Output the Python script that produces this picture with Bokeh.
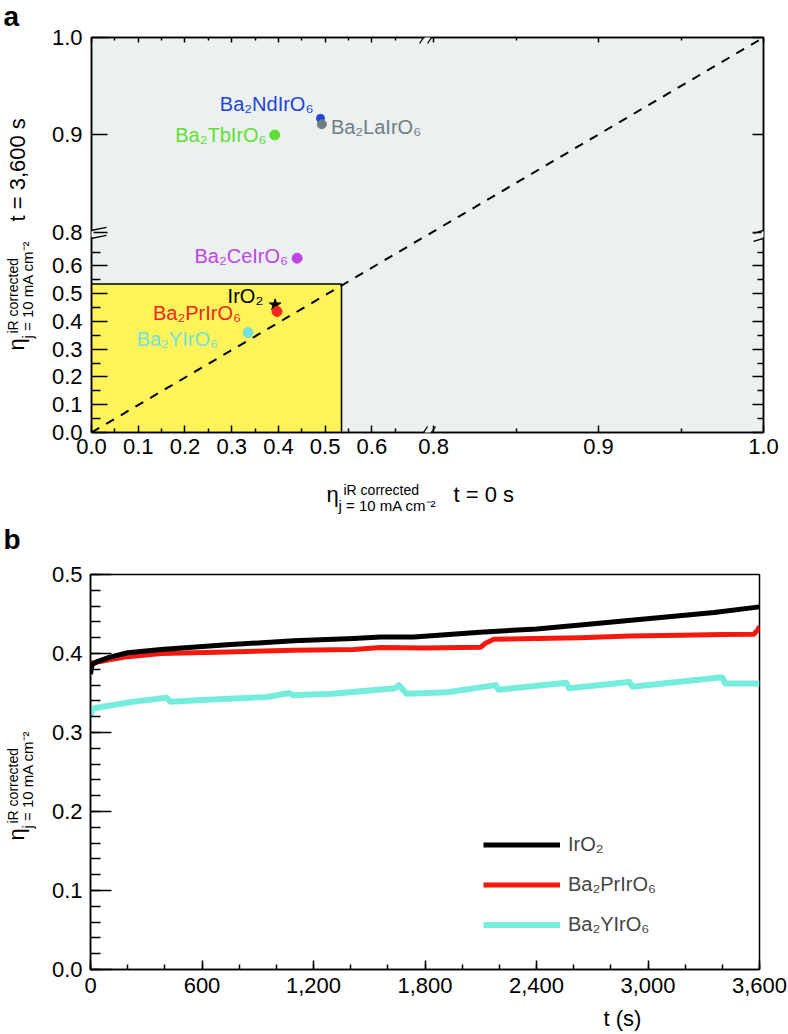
import math
from bokeh.plotting import figure
from bokeh.layouts import column, row
from bokeh.models import (ColumnDataSource, Range1d, LinearAxis, FixedTicker, Arrow,
                          Legend, LegendItem, SingleIntervalTicker, NumeralTickFormatter,
                          CDSView, IndexFilter)
from bokeh.core.properties import value
from bokeh.embed import file_html
from bokeh.resources import INLINE

FONT = "Liberation Sans"

# ---------------- panel a data ----------------
materials = ["Ba₂NdIrO₆", "Ba₂LaIrO₆", "Ba₂TbIrO₆", "Ba₂CeIrO₆", "IrO₂", "Ba₂PrIrO₆", "Ba₂YIrO₆"]
eta_t0 = [0.490, 0.493, 0.392, 0.440, 0.393, 0.397, 0.335]
eta_t3600 = [0.917, 0.911, 0.900, 0.628, 0.460, 0.436, 0.360]
x_tick_values = [0.0, 0.1, 0.2, 0.3, 0.4, 0.5, 0.6, 0.8, 0.9, 1.0]
x_minor_values = [0.05, 0.15, 0.25, 0.35, 0.45, 0.55, 0.65, 0.85, 0.95]
y_tick_values = [0.0, 0.1, 0.2, 0.3, 0.4, 0.5, 0.6, 0.8, 0.9, 1.0]
y_minor_values = [0.05, 0.15, 0.25, 0.35, 0.45, 0.55, 0.65]
tick_labels_a = ["0.0", "0.1", "0.2", "0.3", "0.4", "0.5", "0.6", "0.8", "0.9", "1.0"]
yellow_limit = [0.535]
parity_line = [0.0, 1.0]

# ---------------- panel b data ----------------
t_iro2 = [0, 8, 40, 100, 200, 380, 735, 1094, 1416, 1560, 1740, 2097, 2400, 2636, 2996, 3356, 3600]
eta_iro2 = [0.374, 0.386, 0.390, 0.395, 0.401, 0.405, 0.411, 0.416, 0.419, 0.421, 0.421, 0.427,
            0.431, 0.436, 0.444, 0.452, 0.459]
t_pr = [0, 8, 100, 200, 380, 735, 1094, 1416, 1560, 1800, 2100, 2125, 2170, 2400, 2636, 2900,
        3175, 3400, 3570, 3590, 3600]
eta_pr = [0.383, 0.388, 0.392, 0.396, 0.400, 0.402, 0.404, 0.405, 0.4075, 0.407, 0.408, 0.413,
          0.418, 0.419, 0.420, 0.422, 0.423, 0.424, 0.4245, 0.430, 0.434]
t_y = [0, 10, 50, 230, 410, 430, 600, 950, 1070, 1090, 1300, 1640, 1660, 1700, 1920, 2180, 2195,
       2560, 2575, 2900, 2915, 3400, 3415, 3600]
eta_y = [0.320, 0.330, 0.332, 0.339, 0.344, 0.339, 0.341, 0.345, 0.350, 0.347, 0.349, 0.356, 0.360,
         0.349, 0.351, 0.360, 0.354, 0.363, 0.356, 0.364, 0.358, 0.370, 0.362, 0.362]
legend_names = ["IrO₂", "Ba₂PrIrO₆", "Ba₂YIrO₆"]

# ---------------- styles ----------------
point_colors = ["#2244D8", "#6F7F7F", "#5FE032", "#C044E6", "#000000", "#F0281E", "#72E2DA"]
point_markers = ["circle", "circle", "circle", "circle", "star", "circle", "circle"]
point_sizes = [8, 9, 10, 10, 12, 10, 10]
label_dx = [-7, 9, -8, -9, -12, -36, -30]
label_dy = [-14, 3, 0, -2, -9, 2, 6]
label_align = ["right", "left", "right", "right", "right", "right", "right"]
line_colors_b = ["#000000", "#F5180F", "#76EDDC"]

# broken-axis scale for panel a (lower segment linear, upper segment stretched)
XB, YB, UP = 0.732, 0.721, 0.8
RX, RY = 3.53, 3.51


def fx(v):
    return v if v <= XB else XB + (v - UP) * RX


def fy(v):
    return v if v <= YB else YB + (v - UP) * RY


# can plots opt out of frame alignment inside rows?
try:
    figure().frame_align = False
    ALIGN_OFF = True
except Exception:
    ALIGN_OFF = False

# ---------------- page layout (pixels) ----------------
W = 787
SIDE = 48                        # strip holding the rotated y titles
FL = 90                          # frame left of both panels
FW_A, FH_A, FT_A = 673, 395, 37  # panel a frame: width, height, top (page)
FW_B, FH_B, FT_B = 669, 395, 574
BOT = 34                         # border below each frame (tick labels)
H_TA = 0 if ALIGN_OFF else FT_A  # separate strip for "a" only when frames get aligned
PA_TOP = FT_A - H_TA
H_A = PA_TOP + FH_A + BOT        # row a ends at page 466
TOP_XA = H_TA + H_A
H_XA = 90                        # strip: x title of a + "b"
TOP_B = TOP_XA + H_XA            # 556
H_B = (FT_B - TOP_B) + FH_B + BOT
TOP_XB = TOP_B + H_B
H_XB = 1033 - TOP_XB
KX_A, KY_A = FW_A / fx(1.0), FH_A / fy(1.0)
MID = 0.35                       # text middle above the baseline, in em


def no_align(p):
    if ALIGN_OFF:
        p.frame_align = False
    return p


def style_axis(ax, t_in, m_in, show_labels=True, standoff=8):
    ax.axis_line_width = 1.5
    ax.axis_line_color = "black"
    ax.major_tick_in = t_in
    ax.major_tick_out = 0
    ax.minor_tick_in = m_in
    ax.minor_tick_out = 0
    ax.major_tick_line_width = 1.5
    ax.minor_tick_line_width = 1.5
    ax.major_tick_line_color = "black"
    ax.minor_tick_line_color = "black"
    ax.major_label_text_font = FONT
    if show_labels:
        ax.major_label_text_color = "black"
        ax.major_label_text_font_size = "22px"
    else:
        ax.major_label_text_color = None
        ax.major_label_text_font_size = "0px"
    ax.major_label_standoff = standoff


def strip(w, h, x0, y_top, y_bottom, b_top=0, b_bottom=0):
    # frame of the strip spans page x x0..x0+w and page y y_top..y_bottom;
    # data coordinates are (page x, -page y)
    s = figure(width=w, height=h, title=None, x_range=Range1d(x0, x0 + w),
               y_range=Range1d(-y_bottom, -y_top), output_backend="svg",
               toolbar_location=None, x_axis_type=None, y_axis_type=None,
               min_border_left=0, min_border_right=0, min_border_top=b_top,
               min_border_bottom=b_bottom, outline_line_color=None,
               background_fill_color="white", border_fill_color="white")
    return no_align(s)


def put(s, px, py, text, size, angle=0.0, style="normal", align="left"):
    # (px, py) = start of the text baseline on the page
    if angle:
        px = px - MID * size
    else:
        py = py - MID * size
    s.text(x=[px], y=[-py], text=[text], angle=angle, text_font=value(FONT),
           text_font_size=f"{size}px", text_font_style=style, text_align=align,
           text_baseline="middle", text_color="black")


def seg(p, x0, y0, x1, y1, color="black", width=1.3):
    p.add_layout(Arrow(x_start=x0, y_start=y0, x_end=x1, y_end=y1, end=None,
                       line_color=color, line_width=width))


# ================= panel a =================
pa = figure(width=W - SIDE, height=H_A, output_backend="svg", toolbar_location=None,
            x_range=Range1d(0, fx(1.0)), y_range=Range1d(0, fy(1.0)),
            min_border_left=FL - SIDE, min_border_right=W - FL - FW_A,
            min_border_top=PA_TOP, min_border_bottom=BOT,
            background_fill_color="#EBF0F0", border_fill_color="white")
no_align(pa)
pa.xgrid.visible = False
pa.ygrid.visible = False
pa.outline_line_color = "black"
pa.outline_line_width = 1.5

xt = [fx(v) for v in x_tick_values]
xm = [fx(v) for v in x_minor_values]
yt = [fy(v) for v in y_tick_values]
ym = [fy(v) for v in y_minor_values]

pa.xaxis.ticker = FixedTicker(ticks=xt, minor_ticks=xm)
pa.xaxis.major_label_overrides = {k: s for k, s in zip(xt, tick_labels_a)}
style_axis(pa.xaxis[0], 7, 4, True, 6)
pa.yaxis.ticker = FixedTicker(ticks=yt, minor_ticks=ym)
pa.yaxis.major_label_overrides = {k: s for k, s in zip(yt, tick_labels_a)}
style_axis(pa.yaxis[0], 16, 9, True, 9)

top_ax = LinearAxis(ticker=FixedTicker(ticks=xt, minor_ticks=xm))
style_axis(top_ax, 5, 3, False, 0)
pa.add_layout(top_ax, "above")
right_ax = LinearAxis(ticker=FixedTicker(ticks=yt, minor_ticks=ym))
style_axis(right_ax, 11, 6, False, 0)
pa.add_layout(right_ax, "right")

lim = yellow_limit[0]
pa.quad(left=[0], right=[fx(lim)], bottom=[0], top=[fy(lim)], fill_color="#FFF35A",
        line_color="black", line_width=1.5)
pa.line([fx(v) for v in parity_line], [fy(v) for v in parity_line], line_color="black",
        line_width=2, line_dash="9 8")

src = ColumnDataSource(dict(x=[fx(v) for v in eta_t0], y=[fy(v) for v in eta_t3600],
                            name=materials, color=point_colors, marker=point_markers,
                            size=point_sizes, dx=label_dx, dy=label_dy))
pa.scatter("x", "y", source=src, marker="marker", size="size", fill_color="color",
           line_color="color")
for al in ("left", "right"):
    idx = [i for i, a in enumerate(label_align) if a == al]
    pa.text("x", "y", text="name", source=src, view=CDSView(filter=IndexFilter(idx)),
            x_offset="dx", y_offset="dy", text_align=al, text_baseline="middle",
            text_color="color", text_font=value(FONT), text_font_size="20px")

# axis-break marks
xb = fx(XB) - 6 / KX_A
yb = fy(YB) - 2 / KY_A
for yy in (0.0, fy(1.0)):
    seg(pa, xb - 3 / KX_A, yy, xb + 3 / KX_A, yy, "white", 4)
    for c in (-4, 4):
        seg(pa, xb + (c - 4) / KX_A, yy - 6 / KY_A, xb + (c + 4) / KX_A, yy + 6 / KY_A)
for xx, half in ((0.0, 15), (fx(1.0), 10)):
    seg(pa, xx, yb - 3 / KY_A, xx, yb + 3 / KY_A, "white", 4)
    for c in (-4, 4):
        seg(pa, xx - half / KX_A, yb + (c - 3) / KY_A, xx + half / KX_A, yb + (c + 3) / KY_A)

# ---- text strips around panel a ----
R = math.pi / 2
if ALIGN_OFF:
    ya = strip(SIDE, H_A, 0, 0, H_A)
    holder_a = ya
else:
    ya = strip(SIDE, H_A, 0, FT_A, FT_A + FH_A, PA_TOP, BOT)
    holder_a = strip(W, H_TA, 0, 0, H_TA)
put(holder_a, 3, 25.5, "a", 28, style="bold")
put(ya, 24, 350, "η", 22, R)
put(ya, 17.5, 333, "iR corrected", 14, R)
put(ya, 32, 338, "j = 10 mA cm⁻²", 15, R)
put(ya, 24.5, 221, "t = 3,600 s", 22, R)

xa = strip(W, H_XA, 0, TOP_XA, TOP_XA + H_XA)
put(xa, 326, 502, "η", 22)
put(xa, 343, 494, "iR corrected", 14)
put(xa, 338, 510, "j = 10 mA cm⁻²", 15)
put(xa, 453, 502, "t = 0 s", 22)
put(xa, 3, 549, "b", 28, style="bold")

# ================= panel b =================
pb = figure(width=W - SIDE, height=H_B, output_backend="svg", toolbar_location=None,
            x_range=Range1d(0, 3600), y_range=Range1d(0, 0.5),
            min_border_left=FL - SIDE, min_border_right=W - FL - FW_B,
            min_border_top=FT_B - TOP_B, min_border_bottom=BOT,
            background_fill_color="white", border_fill_color="white")
no_align(pb)
pb.xgrid.visible = False
pb.ygrid.visible = False
pb.outline_line_color = "black"
pb.outline_line_width = 1.5
pb.xaxis.ticker = SingleIntervalTicker(interval=600, num_minor_ticks=3)
pb.xaxis.formatter = NumeralTickFormatter(format="0,0")
style_axis(pb.xaxis[0], 9, 5, True, 8)
pb.yaxis.ticker = SingleIntervalTicker(interval=0.1, num_minor_ticks=5)
pb.yaxis.formatter = NumeralTickFormatter(format="0.0")
style_axis(pb.yaxis[0], 21, 10, True, 8)

r_y = pb.line(t_y, eta_y, line_color=line_colors_b[2], line_width=6, line_join="round")
r_pr = pb.line(t_pr, eta_pr, line_color=line_colors_b[1], line_width=5, line_join="round")
r_k = pb.line(t_iro2, eta_iro2, line_color=line_colors_b[0], line_width=5, line_join="round")

legend = Legend(items=[LegendItem(label=legend_names[0], renderers=[r_k]),
                       LegendItem(label=legend_names[1], renderers=[r_pr]),
                       LegendItem(label=legend_names[2], renderers=[r_y])],
                location=(393, 33), glyph_width=77, glyph_height=23, label_height=23,
                label_text_font=FONT, label_text_font_size="20px", label_standoff=8,
                spacing=17, padding=0, margin=0, border_line_color=None,
                background_fill_alpha=0)
pb.add_layout(legend)

yb_strip = strip(SIDE, H_B, 0, FT_B, FT_B + FH_B, FT_B - TOP_B, BOT)
put(yb_strip, 24, 840, "η", 22, R)
put(yb_strip, 17.5, 823, "iR corrected", 14, R)
put(yb_strip, 32, 828, "j = 10 mA cm⁻²", 15, R)

xb_strip = strip(W, H_XB, 0, TOP_XB, TOP_XB + H_XB)
put(xb_strip, 622, 1026, "t (s)", 22, align="center")

parts = [] if ALIGN_OFF else [holder_a]
parts += [row(ya, pa, spacing=0), xa, row(yb_strip, pb, spacing=0), xb_strip]
layout = column(*parts, spacing=0)
open("out.html", "w").write(file_html(layout, INLINE))
